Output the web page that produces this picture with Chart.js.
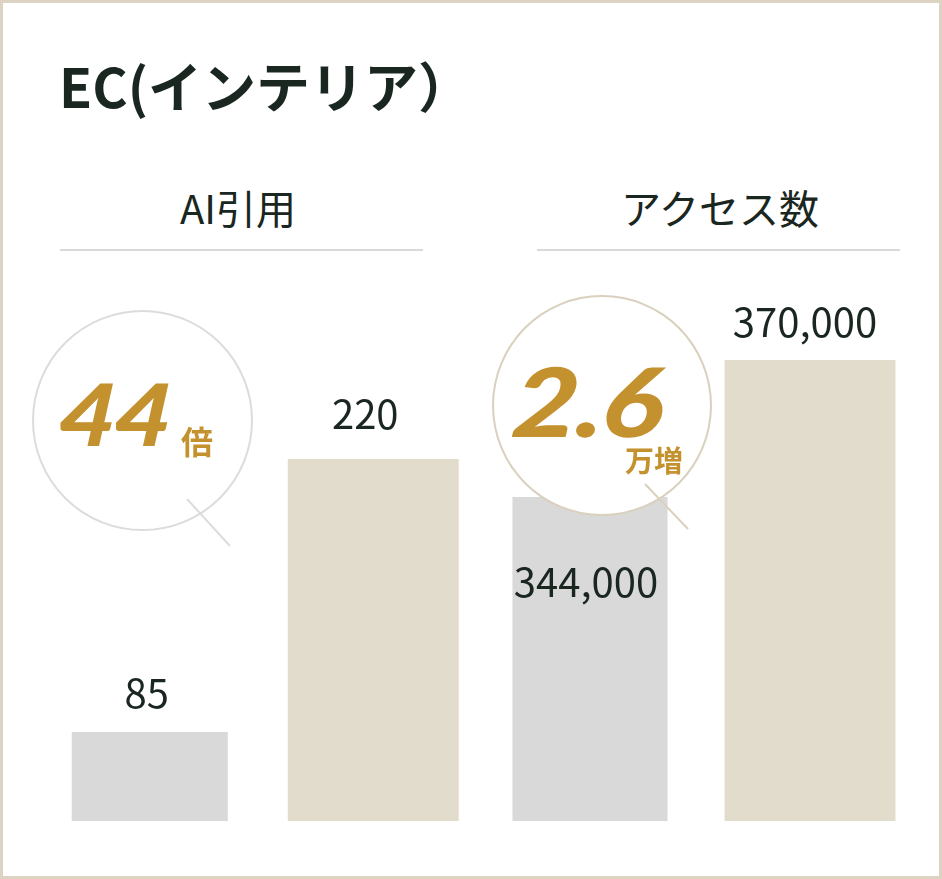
<!DOCTYPE html>
<html lang="ja">
<head>
<meta charset="utf-8">
<title>EC(インテリア）</title>
<script src="https://cdn.jsdelivr.net/npm/chart.js@4.4.1/dist/chart.umd.min.js"></script>
<style>
  html, body { margin: 0; padding: 0; background: #fff; }
  #card {
    position: absolute; left: 0; top: 0; width: 942px; height: 879px;
    box-sizing: border-box; border: 3px solid #dcd3c2; background: #fff;
    overflow: hidden;
    font-family: 'Noto Sans CJK JP', 'Noto Sans', sans-serif; color: #1a2620;
  }
  .abs { position: absolute; white-space: nowrap; line-height: 1; }
  #title { left: 56px; top: 55px; font-size: 54px; font-weight: 700; }
  .head { width: 362px; text-align: center; top: 184px; font-size: 40px; font-weight: 400; }
  .rule { height: 2px; background: #d9d9d9; width: 363px; top: 246px; }
  canvas { position: absolute; }
  .bubble {
    position: absolute; box-sizing: border-box; border-radius: 50%;
    background: #fff; width: 221px; height: 221px;
  }
  .big {
    font-family: 'Lato', sans-serif; font-style: italic; font-weight: 900; color: #c4912f;
    letter-spacing: -2px; transform-origin: left bottom; transform: scaleX(1.16) skewX(-4deg);
  }
  .unit { font-weight: 700; color: #c4912f; }
  svg { position: absolute; left: 0; top: 0; }
</style>
</head>
<body>
<div id="card">
  <canvas id="chartAi" width="447" height="541" style="left:35px; top:277px;"></canvas>
  <canvas id="chartAccess" width="440" height="541" style="left:477px; top:277px;"></canvas>

  <div id="title" class="abs">EC(インテリア）</div>
  <div class="abs head" style="left:54px;">AI引用</div>
  <div class="abs head" style="left:536px;">アクセス数</div>
  <div class="abs rule" style="left:57px;"></div>
  <div class="abs rule" style="left:534px;"></div>

  <div class="bubble" style="left:29px; top:307px; border:2px solid #dcdcdc;"></div>
  <div class="bubble" style="left:489px; top:292px; width:220px; height:221px; border:2px solid #d9d0bd;"></div>
  <svg width="942" height="879">
    <line x1="184" y1="496" x2="227" y2="543" stroke="#dcdcdc" stroke-width="2"/>
    <line x1="642" y1="481" x2="685" y2="526" stroke="#d9d0bd" stroke-width="2"/>
  </svg>

  <div class="abs big" style="left:53px; top:367px; font-size:86px;">44</div>
  <div class="abs unit" style="left:178px; top:421px; font-size:32px;">倍</div>
  <div class="abs big" style="left:506px; top:349px; font-size:96px; transform: scaleX(1.2) skewX(-4deg);">2.6</div>
  <div class="abs unit" style="left:622px; top:442px; font-size:29px;">万増</div>
</div>

<script>
'use strict';

// Data
const periods = ['前', '後'];
const aiCitations = [85, 220];
const accessCounts = [344000, 370000];

// Styles
const barColors = ['#d9d9d9', '#e2dccd'];
const textColor = '#1a2620';

// one dataset per bar so each can have its own width and label spot
function makeDatasets(values, widths, labelDx, labelDy){
  let sets = [];
  for(let i = 0; i < values.length; i++){
    let data = values.map((v, j) => j === i ? v : null);
    sets.push({
      data: data,
      backgroundColor: barColors[i],
      borderWidth: 0,
      barPercentage: widths[i],
      categoryPercentage: 1,
      labelDx: labelDx[i],
      labelDy: labelDy[i]
    });
  }
  return sets;
}

// value labels above / inside the bars
const valueLabels = {
  id: 'valueLabels',
  afterDatasetsDraw(chart){
    const c = chart.ctx;
    c.save();
    c.font = '400 40px "Noto Sans CJK JP", sans-serif';
    c.fillStyle = textColor;
    c.textAlign = 'center';
    c.textBaseline = 'alphabetic';
    chart.data.datasets.forEach((ds, i) => {
      chart.getDatasetMeta(i).data.forEach((bar, j) => {
        if(ds.data[j] === null) return;
        c.fillText(ds.data[j].toLocaleString('en-US'), bar.x + ds.labelDx, bar.y + ds.labelDy);
      });
    });
    c.restore();
  }
};

function makeChart(el, values, yMin, yMax, widths, labelDx, labelDy){
  return new Chart(document.getElementById(el), {
    type: 'bar',
    data: {
      labels: periods,
      datasets: makeDatasets(values, widths, labelDx, labelDy)
    },
    options: {
      responsive: false,
      animation: false,
      datasets: { bar: { grouped: false, skipNull: true } },
      layout: { padding: 0 },
      plugins: { legend: { display: false }, tooltip: { enabled: false } },
      scales: {
        x: { display: false },
        y: { display: false, min: yMin, max: yMax }
      }
    },
    plugins: [valueLabels]
  });
}

makeChart('chartAi', aiCitations, 41, 308.6, [0.698, 0.765], [-3, -8], [-24, -30]);
makeChart('chartAccess', accessCounts, 282510, 385186, [0.705, 0.777], [-4, -5], [100, -23]);
</script>
</body>
</html>
